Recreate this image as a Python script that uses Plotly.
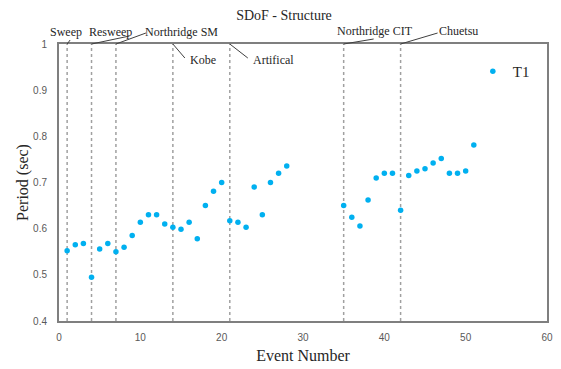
import plotly.graph_objects as go

events = [1, 2, 3, 4, 5, 6, 7, 8, 9, 10, 11, 12, 13, 14, 15, 16, 17, 18, 19, 20,
          21, 22, 23, 24, 25, 26, 27, 28,
          35, 36, 37, 38, 39, 40, 41, 42, 43, 44, 45, 46, 47, 48, 49, 50, 51]
periods = [0.552, 0.565, 0.568, 0.495, 0.556, 0.568, 0.550, 0.560, 0.585, 0.614,
           0.630, 0.630, 0.610, 0.603, 0.599, 0.614, 0.578, 0.650, 0.681, 0.700,
           0.617, 0.614, 0.603, 0.690, 0.630, 0.700, 0.720, 0.736,
           0.650, 0.625, 0.606, 0.662, 0.710, 0.720, 0.720, 0.640, 0.715, 0.725,
           0.730, 0.742, 0.752, 0.720, 0.720, 0.725, 0.781]

marker_names = ["Sweep", "Resweep", "Northridge SM", "Kobe", "Artifical",
                "Northridge CIT", "Chuetsu"]
marker_events = [1, 4, 7, 14, 21, 35, 42]

# label placement (pixel offsets from top of each event line, y up)
label_dx = [-1, 19, 66, 30, 44, 31, 58]
label_dy = [12, 12, 12, -16, -16, 13, 13]
# leader line end (pixel offsets from top of each event line, y up)
lead_dx = [3, 38, 30, 12, 18, 30, 37]
lead_dy = [4, 8, 11, -14, -14, 5, 11]

ytick_vals = [0.4, 0.5, 0.6, 0.7, 0.8, 0.9, 1.0]
ytick_text = ["0.4", "0.5", "0.6", "0.7", "0.8", "0.9", "1"]
xtick_vals = [0, 10, 20, 30, 40, 50, 60]

SERIF = "Liberation Serif"
SANS = "Liberation Sans"

fig = go.Figure()
fig.add_trace(go.Scatter(
    x=events, y=periods, mode="markers", name="T1",
    marker=dict(color="#00B0F0", size=5.5),
))

for ev in marker_events:
    fig.add_shape(type="line", xref="x", yref="y", x0=ev, x1=ev, y0=0.4, y1=1.0,
                  line=dict(color="#a0a0a0", width=1.5, dash="dot"), layer="below")

for name, ev, dx, dy, lx, ly in zip(marker_names, marker_events, label_dx, label_dy,
                                    lead_dx, lead_dy):
    fig.add_shape(type="line", xref="x", yref="paper",
                  xsizemode="pixel", ysizemode="pixel", xanchor=ev, yanchor=1.0,
                  x0=0, y0=0, x1=lx, y1=ly,
                  line=dict(color="#404040", width=1), layer="above")
    fig.add_annotation(x=ev, y=1.0, xref="x", yref="y", text=name,
                       showarrow=False, xshift=dx, yshift=dy,
                       xanchor="center", yanchor="middle",
                       font=dict(family=SERIF, size=12, color="#262626"))

fig.update_layout(
    width=561, height=369,
    margin=dict(l=59, r=14, t=44, b=48),
    paper_bgcolor="white", plot_bgcolor="white",
    title=dict(text="SDoF - Structure", x=284/561, xref="container", xanchor="center",
               y=1 - 15/369, yref="container", yanchor="middle",
               font=dict(family=SERIF, size=14, color="#262626")),
    showlegend=True,
    legend=dict(x=0.848, y=0.96, xanchor="left", yanchor="top",
                bgcolor="rgba(0,0,0,0)", itemwidth=30,
                font=dict(family=SERIF, size=15, color="#262626")),
)
fig.update_xaxes(range=[0, 60], tickvals=xtick_vals, showgrid=False, zeroline=False,
                 showline=True, mirror=True, linecolor="#7f7f7f", linewidth=2,
                 ticks="", ticklabelstandoff=6, automargin=False,
                 tickfont=dict(family=SANS, size=10, color="#595959"),
                 title=dict(text="Event Number", standoff=8,
                            font=dict(family=SERIF, size=16, color="#262626")))
fig.update_yaxes(range=[0.4, 1.0], tickvals=ytick_vals, ticktext=ytick_text,
                 showgrid=False, zeroline=False, automargin=False,
                 showline=True, mirror=True, linecolor="#7f7f7f", linewidth=2,
                 ticks="", ticklabelstandoff=8,
                 tickfont=dict(family=SANS, size=10, color="#595959"),
                 title=dict(text="Period (sec)", standoff=0,
                            font=dict(family=SERIF, size=16, color="#262626")))

fig.write_html("out.html")
